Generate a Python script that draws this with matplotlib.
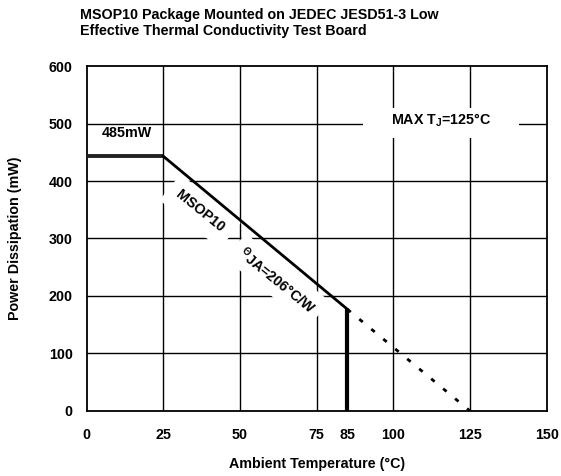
import matplotlib
matplotlib.use("Agg")
from matplotlib import pyplot as plt
from matplotlib.patches import Rectangle

plt.rcParams['font.family'] = ['Liberation Sans', 'DejaVu Sans']
plt.rcParams['font.weight'] = 'bold'
plt.rcParams['mathtext.fontset'] = 'custom'
plt.rcParams['mathtext.rm'] = 'Liberation Sans:bold'
plt.rcParams['mathtext.it'] = 'Liberation Sans:bold'
plt.rcParams['mathtext.bf'] = 'Liberation Sans:bold'

# derating curve (ambient temp in C, power in mW)
temp = [0, 25, 85]
power = [443, 443, 177]
cutoff_temp = [85, 85]
cutoff_power = [177, 0]
ext_temp = [85, 125]
ext_power = [177, 0]

xticks = [0, 25, 50, 75, 85, 100, 125, 150]
yticks = [0, 100, 200, 300, 400, 500, 600]
grid_x = [25, 50, 75, 100, 125]
grid_y = [100, 200, 300, 400, 500]

FS = 10.3

fig = plt.figure(figsize=(5.61, 4.76), dpi=100)
ax = fig.add_axes([0.1545, 0.1366, 0.82, 0.7247])

for gx in grid_x:
    ax.axvline(gx, color='black', lw=1.0, zorder=1)
for gy in grid_y:
    ax.axhline(gy, color='black', lw=1.0, zorder=1)

ax.plot(temp[:2], power[:2], color='#222222', lw=2.8, zorder=4,
        solid_capstyle='butt', clip_on=False)
ax.plot(temp[1:], power[1:], color='black', lw=2.0, zorder=4)
ax.plot(cutoff_temp, cutoff_power, color='black', lw=3.0, zorder=4,
        solid_capstyle='butt')
ax.plot(ext_temp, ext_power, color='black', lw=2.0, zorder=4,
        linestyle=(0, (1.6, 4.0)))

ax.set_xlim(0, 150)
ax.set_ylim(0, 600)
ax.set_xticks(xticks)
ax.set_yticks(yticks)
ax.tick_params(length=0, labelsize=FS, pad=10)
ax.tick_params(axis='x', pad=12)
for s in ax.spines.values():
    s.set_linewidth(1.3)

ax.set_xlabel('Ambient Temperature (°C)', fontsize=FS, fontweight='bold', labelpad=11)
ax.set_ylabel('Power Dissipation (mW)', fontsize=FS, fontweight='bold', labelpad=19)

ax.text(13, 483, '485mW', fontsize=FS, ha='center', va='center', zorder=3)

# white box behind the max junction label
ax.add_patch(Rectangle((90, 475), 51, 52, facecolor='white', edgecolor='none', zorder=2))
ax.text(115.5, 506, 'MAX T$_\\mathrm{J}$=125°C', fontsize=FS, ha='center', va='center', zorder=3)

ax.text(37, 347, 'MSOP10', fontsize=FS, ha='center', va='center', rotation=-39,
        rotation_mode='anchor', zorder=3,
        bbox=dict(facecolor='white', edgecolor='none', pad=7))
ax.text(62.2, 228, '$^\\Theta$JA=206°C/W', fontsize=FS, ha='center', va='center',
        rotation=-39, rotation_mode='anchor', zorder=3,
        bbox=dict(facecolor='white', edgecolor='none', pad=5))

fig.text(80 / 561, 1 - 8 / 476,
         'MSOP10 Package Mounted on JEDEC JESD51-3 Low\nEffective Thermal Conductivity Test Board',
         fontsize=FS, fontweight='bold', ha='left', va='top', linespacing=1.15)

fig.savefig('out.png', dpi=100)
